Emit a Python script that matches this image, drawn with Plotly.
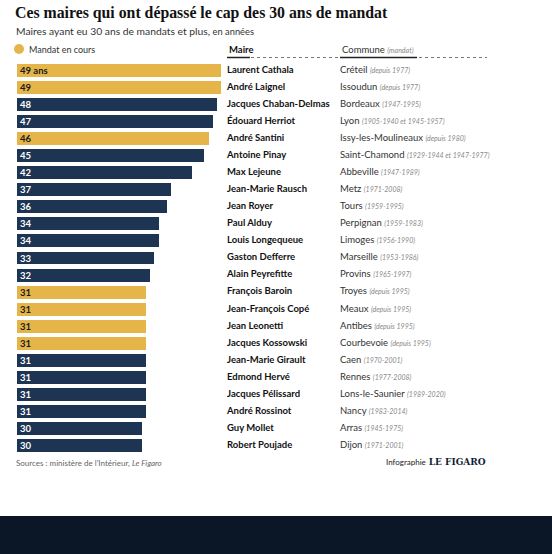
import plotly.graph_objects as go

# Données
maires = ["Laurent Cathala", "André Laignel", "Jacques Chaban-Delmas", "Édouard Herriot",
          "André Santini", "Antoine Pinay", "Max Lejeune", "Jean-Marie Rausch", "Jean Royer",
          "Paul Alduy", "Louis Longequeue", "Gaston Defferre", "Alain Peyrefitte",
          "François Baroin", "Jean-François Copé", "Jean Leonetti", "Jacques Kossowski",
          "Jean-Marie Girault", "Edmond Hervé", "Jacques Pélissard", "André Rossinot",
          "Guy Mollet", "Robert Poujade"]
communes = ["Créteil", "Issoudun", "Bordeaux", "Lyon", "Issy-les-Moulineaux", "Saint-Chamond",
            "Abbeville", "Metz", "Tours", "Perpignan", "Limoges", "Marseille", "Provins",
            "Troyes", "Meaux", "Antibes", "Courbevoie", "Caen", "Rennes", "Lons-le-Saunier",
            "Nancy", "Arras", "Dijon"]
mandats = ["depuis 1977", "depuis 1977", "1947-1995", "1905-1940 et 1945-1957", "depuis 1980",
           "1929-1944 et 1947-1977", "1947-1989", "1971-2008", "1959-1995", "1959-1983",
           "1956-1990", "1953-1986", "1965-1997", "depuis 1995", "depuis 1995", "depuis 1995",
           "depuis 1995", "1970-2001", "1977-2008", "1989-2020", "1983-2014", "1945-1975",
           "1971-2001"]
annees = [49, 49, 48, 47, 46, 45, 42, 37, 36, 34, 34, 33, 32, 31, 31, 31, 31, 31, 31, 31, 31, 30, 30]
en_cours = [True, True, False, False, True, False, False, False, False, False, False, False, False,
            True, True, True, True, False, False, False, False, False, False]

W, H = 552, 554
OR = '#E5B54A'
BLEU = '#1D3553'
FONT = 'Lato'
COL_MAIRE = 227
COL_COMMUNE = 340


def px(x):
    return x / W


def py(y):
    return 1 - y / H


rows = list(range(len(maires)))
couleurs = [OR if c else BLEU for c in en_cours]
txt_couleurs = ['#1a1a1a' if c else 'white' for c in en_cours]
labels = ["<b>%d ans</b>" % a if i == 0 else "<b>%d</b>" % a for i, a in enumerate(annees)]
txt_communes = ["%s <span style='font-size:7px;color:#8a8a8a'><i>(%s)</i></span>" % (c, m)
                for c, m in zip(communes, mandats)]

fig = go.Figure()
fig.add_trace(go.Bar(
    x=annees, y=rows, orientation='h',
    marker=dict(color=couleurs, line=dict(width=0)),
    width=0.76,
    text=labels, textposition='inside', insidetextanchor='start',
    textangle=0, constraintext='none',
    textfont=dict(family=FONT, size=9.5, color=txt_couleurs),
    hoverinfo='skip',
))
# colonnes de texte (axe x2 en pixels)
fig.add_trace(go.Scatter(
    x=[COL_MAIRE] * len(rows), y=rows, xaxis='x2', mode='text', cliponaxis=False,
    text=["<b>%s</b>" % m for m in maires], textposition='middle right',
    textfont=dict(family=FONT, size=9.5, color='#111111'), hoverinfo='skip',
))
fig.add_trace(go.Scatter(
    x=[COL_COMMUNE] * len(rows), y=rows, xaxis='x2', mode='text', cliponaxis=False,
    text=txt_communes, textposition='middle right',
    textfont=dict(family=FONT, size=9.5, color='#333333'), hoverinfo='skip',
))

annotations = [
    dict(x=px(13), y=py(13), xref='paper', yref='paper', xanchor='left', yanchor='middle',
         text="<b>Ces maires qui ont dépassé le cap des 30 ans de mandat</b>", showarrow=False,
         font=dict(family='Liberation Serif', size=15.8, color='#111111')),
    dict(x=px(14), y=py(31), xref='paper', yref='paper', xanchor='left', yanchor='middle',
         text="Maires ayant eu 30 ans de mandats et plus, <span style='font-size:9.3px'>en années</span>",
         showarrow=False, font=dict(family=FONT, size=10.3, color='#333333')),
    dict(x=px(27), y=py(49), xref='paper', yref='paper', xanchor='left', yanchor='middle',
         text="Mandat en cours", showarrow=False, font=dict(family=FONT, size=9, color='#333333')),
    dict(x=px(COL_MAIRE), y=py(49), xref='paper', yref='paper', xanchor='left', yanchor='middle',
         text="<b>Maire</b>", showarrow=False, font=dict(family=FONT, size=9.5, color='#111111')),
    dict(x=px(COL_COMMUNE), y=py(49), xref='paper', yref='paper', xanchor='left', yanchor='middle',
         text="Commune <span style='font-size:7px;color:#8a8a8a'><i>(mandat)</i></span>",
         showarrow=False, font=dict(family=FONT, size=9.5, color='#333333')),
    dict(x=px(14), y=py(463), xref='paper', yref='paper', xanchor='left', yanchor='middle',
         text="Sources : ministère de l'Intérieur, <i>Le Figaro</i>", showarrow=False,
         font=dict(family=FONT, size=8, color='#666666')),
    dict(x=px(488), y=py(462), xref='paper', yref='paper', xanchor='right', yanchor='middle',
         text="<span style='font-family:Lato;font-size:8px;color:#222'>Infographie</span> "
              "<b>LE FIGARO</b>", showarrow=False,
         font=dict(family='DejaVu Serif', size=9, color='#0f1f3a')),
]

shapes = [
    dict(type='circle', xref='paper', yref='paper', x0=px(14), x1=px(24), y0=py(54), y1=py(44),
         fillcolor=OR, line=dict(width=0)),
    dict(type='line', xref='paper', yref='paper', x0=px(227), x1=px(487), y0=py(57.5), y1=py(57.5),
         line=dict(color='#777777', width=1, dash='dot')),
    dict(type='line', xref='paper', yref='paper', x0=px(227), x1=px(250), y0=py(57.5), y1=py(57.5),
         line=dict(color='#222222', width=1.5)),
    dict(type='line', xref='paper', yref='paper', x0=px(340), x1=px(417), y0=py(57.5), y1=py(57.5),
         line=dict(color='#222222', width=1.5)),
    dict(type='rect', xref='paper', yref='paper', x0=0, x1=1, y0=0, y1=py(516),
         fillcolor='#0b1727', line=dict(width=0), layer='below'),
]

fig.update_layout(
    width=W, height=H,
    margin=dict(l=0, r=0, t=0, b=0),
    paper_bgcolor='white', plot_bgcolor='rgba(0,0,0,0)',
    showlegend=False, bargap=0,
    xaxis=dict(domain=[px(17), px(17 + 4.163 * 50)], range=[0, 50], visible=False, fixedrange=True),
    xaxis2=dict(domain=[0, 1], range=[0, W], anchor='y', visible=False, fixedrange=True),
    yaxis=dict(domain=[py(454), py(62)], range=[22.5, -0.5], visible=False, fixedrange=True),
    annotations=annotations, shapes=shapes,
    uniformtext=dict(minsize=8, mode='show'),
)

fig.write_html("out.html", config={'displayModeBar': False},
               post_script="document.body.style.margin='0';")
